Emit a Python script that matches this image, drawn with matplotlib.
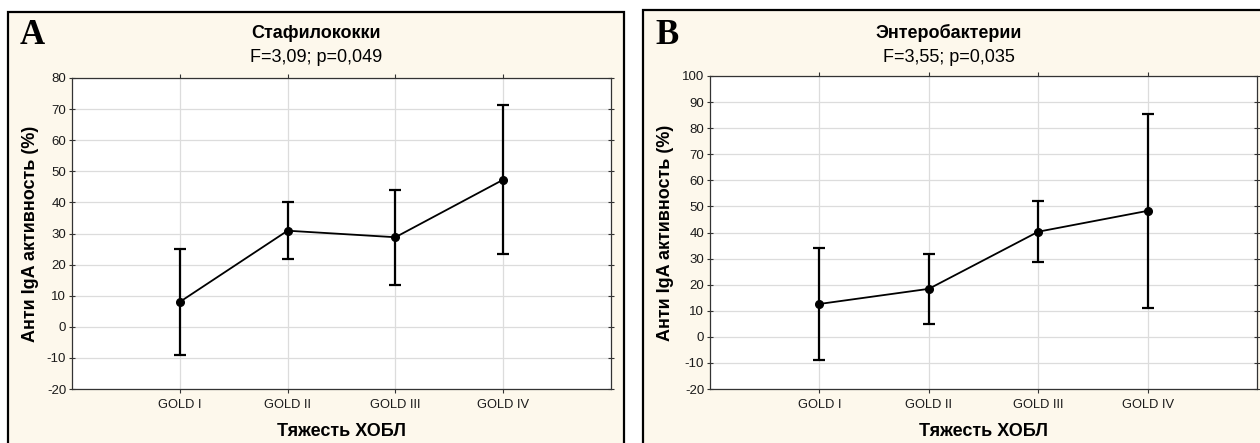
import matplotlib
matplotlib.use("Agg")
import matplotlib.pyplot as plt
from matplotlib.patches import Rectangle

plt.rcParams['font.family'] = ['Liberation Sans', 'DejaVu Sans']

categories = ["GOLD I", "GOLD II", "GOLD III", "GOLD IV"]

staph_mean = [8.0, 30.9, 28.8, 47.3]
staph_low = [-9.0, 21.9, 13.6, 23.4]
staph_high = [25.0, 40.0, 44.0, 71.3]

entero_mean = [12.6, 18.4, 40.3, 48.3]
entero_low = [-8.7, 5.1, 28.5, 10.9]
entero_high = [34.0, 31.6, 52.0, 85.4]

panels = [
    dict(letter="A", title="Стафилококки", stat="F=3,09; p=0,049",
         mean=staph_mean, low=staph_low, high=staph_high,
         ylim=(-20, 80), yticks=list(range(-20, 81, 10)),
         box=(8, 12, 624, 450), ax=(72, 78, 611, 389), ylab_x=31),
    dict(letter="B", title="Энтеробактерии", stat="F=3,55; p=0,035",
         mean=entero_mean, low=entero_low, high=entero_high,
         ylim=(-20, 100), yticks=list(range(-20, 101, 10)),
         box=(643, 10, 1262, 450), ax=(710, 76, 1257, 389), ylab_x=665),
]

W, H = 1260, 443
fig = plt.figure(figsize=(W / 100, H / 100), dpi=100)
fig.patch.set_facecolor("white")

for p in panels:
    x0, y0, x1, y1 = p["box"]
    fig.patches.append(Rectangle((x0 / W, 1 - y1 / H), (x1 - x0) / W, (y1 - y0) / H,
                                 transform=fig.transFigure, facecolor="#fdf8ec",
                                 edgecolor="black", linewidth=1.6, zorder=-5))
    ax0, ay0, ax1, ay1 = p["ax"]
    aw, ah = ax1 - ax0, ay1 - ay0
    ax = fig.add_axes([ax0 / W, 1 - ay1 / H, aw / W, ah / H])
    ax.set_zorder(5)
    ax.set_facecolor("white")
    xs = list(range(1, len(categories) + 1))
    yerr = [[m - l for m, l in zip(p["mean"], p["low"])],
            [h - m for m, h in zip(p["mean"], p["high"])]]
    ax.errorbar(xs, p["mean"], yerr=yerr, color="black", linewidth=1.3,
                elinewidth=1.6, capsize=4, capthick=1.6, marker="o",
                markersize=5.5, zorder=3)
    ax.set_xlim(0, 5)
    ax.set_ylim(*p["ylim"])
    ax.set_xticks(xs)
    ax.set_xticklabels(categories, fontsize=9.3, color="#1a1a1a")
    ax.set_yticks(p["yticks"])
    ax.set_yticklabels([str(v) for v in p["yticks"]], fontsize=9.5, color="#1a1a1a")
    ax.grid(True, color="#dcdcdc", linewidth=0.9)
    ax.set_axisbelow(True)
    for s in ax.spines.values():
        s.set_color("#333333")
        s.set_linewidth(0.9)
    ax.tick_params(axis="both", direction="out", length=3, width=0.8, color="#333333",
                   top=True, right=True)
    ax.tick_params(axis="y", pad=2.2)
    ax.tick_params(axis="y", which="major", right=True, direction="inout", length=4)
    ax.tick_params(axis="x", pad=4)
    ax.set_ylabel("Анти IgA активность (%)", fontsize=13, fontweight="bold",
                  va="center")
    ax.yaxis.set_label_coords((p["ylab_x"] - ax0) / aw, 0.5)
    ax.set_xlabel("Тяжесть ХОБЛ", fontsize=13, fontweight="bold", va="center")
    ax.xaxis.set_label_coords(0.5, -(431 - ay1) / ah)
    cx = (x0 + x1 - (8 if p["letter"] == "B" else 0)) / 2 / W
    fig.text(cx, 1 - 33 / H, p["title"], ha="center", va="center",
             fontsize=13, fontweight="bold", zorder=6)
    fig.text(cx, 1 - 57 / H, p["stat"], ha="center", va="center", fontsize=13,
             zorder=6)
    fig.text((x0 + 12) / W, 1 - 36 / H, p["letter"], ha="left", va="center",
             fontsize=25, fontweight="bold", family="Liberation Serif", zorder=6)

fig.savefig("out.png", dpi=100)
